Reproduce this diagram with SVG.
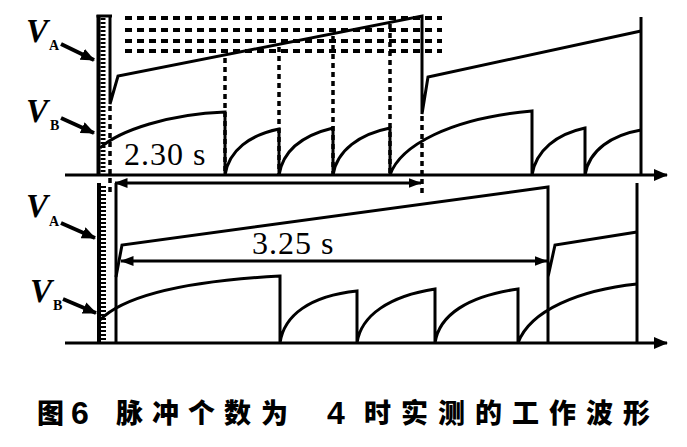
<svg xmlns="http://www.w3.org/2000/svg" width="687" height="447" viewBox="0 0 687 447">
<style>
.ln{stroke:#000;stroke-width:3;fill:none;stroke-linejoin:miter}
.bar{stroke:#000;stroke-width:4;fill:none}
.tick{stroke:#000;stroke-width:5;fill:none;stroke-dasharray:2 2}
.dv{stroke:#000;stroke-width:3.5;fill:none;stroke-dasharray:5 4}
.dh{stroke:#000;stroke-width:4;fill:none;stroke-dasharray:7 5}
.lab{font-family:"Liberation Serif",serif;fill:#000}
.v{font-size:33px;font-style:italic;font-weight:bold}
.sub{font-size:14px;font-weight:bold}
.dim{font-size:32px}
.cap{font-family:"Noto Sans CJK SC","Noto Sans CJK JP",sans-serif;font-size:27px;font-weight:900;fill:#000}
.num{font-family:"Liberation Sans",sans-serif;font-size:32px;font-weight:bold;fill:#000}
.la{stroke:#000;stroke-width:4}
</style>
<defs>
<marker id="ax" viewBox="0 0 14 12" refX="13" refY="6" markerWidth="14" markerHeight="12" markerUnits="userSpaceOnUse" orient="auto"><path d="M0,0 L14,6 L0,12 z" fill="#000"/></marker>
<marker id="ah" viewBox="0 0 13 10" refX="12.5" refY="5" markerWidth="13" markerHeight="10" markerUnits="userSpaceOnUse" orient="auto-start-reverse"><path d="M0,0 L13,5 L0,10 z" fill="#000"/></marker>
<marker id="lh" viewBox="0 0 14 12" refX="13" refY="6" markerWidth="14" markerHeight="12" markerUnits="userSpaceOnUse" orient="auto"><path d="M0,0 L14,6 L0,12 z" fill="#000"/></marker>
</defs>
<rect width="687" height="447" fill="#fff"/>

<g id="top-panel">
  <line class="ln" x1="65" y1="175" x2="667" y2="175" marker-end="url(#ax)"/>
  <line class="bar" x1="98.5" y1="15" x2="98.5" y2="176"/>
  <line class="tick" x1="103" y1="18" x2="103" y2="175"/>
  <line class="ln" x1="96.5" y1="16" x2="112" y2="16"/>
  <g id="top-grid">
    <line class="dh" x1="125" y1="18" x2="442" y2="18"/>
    <line class="dh" x1="125" y1="30" x2="442" y2="30"/>
    <line class="dh" x1="125" y1="41" x2="442" y2="41"/>
    <line class="dh" x1="125" y1="51" x2="442" y2="51"/>
    <line class="dv" x1="110" y1="106" x2="110" y2="195"/>
    <line class="dv" x1="225" y1="58" x2="225" y2="175"/>
    <line class="dv" x1="279" y1="47" x2="279" y2="175"/>
    <line class="dv" x1="333" y1="36" x2="333" y2="175"/>
    <line class="dv" x1="390" y1="24" x2="390" y2="175"/>
    <line class="dv" x1="422" y1="116" x2="422" y2="195"/>
  </g>
  <path id="top-VA" class="ln" d="M110,16 L110,104 L118,76 L422,16 L422,114 L428,77 L641,31"/>
  <line class="ln" x1="641" y1="17" x2="641" y2="175"/>
  <path id="top-VB" class="ln" d="M100,148 C120,130 170,114 225,112 V175 M225,175 C229,150 250,135 279,129 V175 M279,175 C283,150 304,135 333,128 V175 M333,175 C337,150 360,134 390,128 V175 M390,175 C400,146 450,118 532,111 V175 M532,175 C536,150 557,134 585,128 V175 M585,175 C589,150 612,135 641,130"/>
  <line class="ln" x1="115" y1="183" x2="421" y2="183" marker-start="url(#ah)" marker-end="url(#ah)"/>
  <text class="lab dim" x="124" y="165" letter-spacing="1">2.30 s</text>
</g>

<g id="bottom-panel">
  <line class="ln" x1="65" y1="343" x2="667" y2="343" marker-end="url(#ax)"/>
  <line class="bar" x1="99" y1="183" x2="99" y2="344"/>
  <line class="tick" x1="103.5" y1="186" x2="103.5" y2="343"/>
  <line class="ln" x1="116" y1="183" x2="116" y2="343"/>
  <path id="bottom-VA" class="ln" d="M116,277 L122,245 L548,187 L548,343 M548,277 L555,245 L637,232"/>
  <line class="ln" x1="637" y1="183" x2="637" y2="343"/>
  <path id="bottom-VB" class="ln" d="M100,320 C120,300 170,282 280,276 V343 M280,343 C284,315 310,296 357,291 V343 M357,343 C361,315 390,296 435,289 V343 M435,343 C439,315 468,296 518,289 V343 M518,343 C530,310 580,290 637,284"/>
  <line class="ln" x1="121" y1="261" x2="547" y2="261" marker-start="url(#ah)" marker-end="url(#ah)"/>
  <text class="lab dim" x="252" y="254" letter-spacing="1">3.25 s</text>
</g>

<g id="labels">
  <text class="lab v" x="26" y="42">V</text><text class="lab sub" x="49" y="50">A</text>
  <text class="lab v" x="26" y="122">V</text><text class="lab sub" x="50" y="130">B</text>
  <text class="lab v" x="26" y="217">V</text><text class="lab sub" x="49" y="226">A</text>
  <text class="lab v" x="30" y="302">V</text><text class="lab sub" x="53" y="310">B</text>
  <g id="label-arrows">
    <line class="la" x1="61" y1="44" x2="94" y2="60" marker-end="url(#lh)"/>
    <line class="la" x1="61" y1="118" x2="94" y2="133" marker-end="url(#lh)"/>
    <line class="la" x1="61" y1="223" x2="95" y2="238" marker-end="url(#lh)"/>
    <line class="la" x1="63" y1="299" x2="96" y2="313" marker-end="url(#lh)"/>
  </g>
</g>

<g id="caption">
  <text class="cap" x="37" y="423">图</text>
  <text class="num" x="71" y="424">6</text>
  <text class="cap" x="116 152 188 224 261" y="423">脉冲个数为</text>
  <text class="num" x="327" y="424">4</text>
  <text class="cap" x="364 401 438 475 512 549 586 623" y="423">时实测的工作波形</text>
</g>
</svg>
